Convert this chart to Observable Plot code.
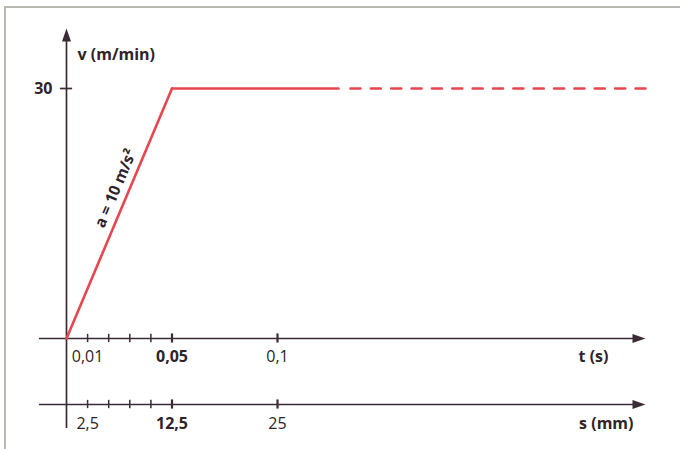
<!DOCTYPE html>
<html>
<head>
<meta charset="utf-8">
<script src="https://cdn.jsdelivr.net/npm/d3@7"></script>
<script src="https://cdn.jsdelivr.net/npm/@observablehq/plot@0.6"></script>
<style>
  html, body { margin: 0; padding: 0; background: #fff; }
  #wrap { position: relative; width: 680px; height: 449px; overflow: hidden; background: #fff; }
  #wrap svg { position: absolute; left: 0; top: 0; }
  #frame { position: absolute; left: 4px; top: 6px; width: 700px; height: 460px;
           border-top: 2px solid #b9b9b2; border-left: 2px solid #b9b9b2; }
</style>
</head>
<body>
<div id="wrap"><div id="frame"></div></div>
<script>
// ---- data ----
const rampT = [0, 0.05];              // time (s)
const rampV = [0, 30];                // speed (m/min)
const solidT = [0.05, 0.1289];        // constant speed, drawn solid
const dashedT = [0.1346, 0.2744];     // constant speed, continues (dashed)
const vMax = 30;
const tTicks = [0.01, 0.02, 0.03, 0.04, 0.05, 0.1];
const tLabels = ["0,01", "", "", "", "0,05", "0,1"];
const tBoldTick = [false, false, false, false, true, true];
const tBoldLabel = [false, false, false, false, true, false];
const sTicks = [2.5, 5, 7.5, 10, 12.5, 25];     // mm  (s = 250 * t)
const sLabels = ["2,5", "", "", "", "12,5", "25"];
const sBoldTick = [false, false, false, false, true, true];
const sBoldLabel = [false, false, false, false, true, false];
const mmPerSecond = 250;
const yTickLabel = "30";
const yTitle = "v (m/min)";
const tTitle = "t (s)";
const sTitle = "s (mm)";
const slopeLabel = "a = 10 m/s²";

// axis extents (data units)
const tAxisStart = -0.0128, tAxisEnd = 0.2744;
const vAxisTop = 37.2, vAxisBottom = -10.8;
const sAxisV = -7.92;   // where the second (distance) axis sits

const axisColor = "#3b2b37";
const textColor = "#2f2329";
const red = "#e8464f";
const font = "'Open Sans', 'Noto Sans', sans-serif";
const fs = 16;

const arrowUp = { draw(ctx) { ctx.moveTo(0, 0); ctx.lineTo(-4.5, 13); ctx.lineTo(4.5, 13); ctx.closePath(); } };
const arrowRight = { draw(ctx) { ctx.moveTo(0, 0); ctx.lineTo(-13, -4.5); ctx.lineTo(-13, 4.5); ctx.closePath(); } };

const ramp = rampT.map((t, i) => ({ t, v: rampV[i] }));
const solid = solidT.map(t => ({ t, v: vMax }));
const dashed = dashedT.map(t => ({ t, v: vMax }));
const tt = tTicks.map((t, i) => ({ t, label: tLabels[i], boldTick: tBoldTick[i], boldLabel: tBoldLabel[i] }));
const st = sTicks.map((s, i) => ({ t: s / mmPerSecond, label: sLabels[i], boldTick: sBoldTick[i], boldLabel: sBoldLabel[i] }));
const labelAt = { t: rampT[1] * 0.6, v: rampV[1] * 0.6 };

const chart = Plot.plot({
  width: 680,
  height: 449,
  margin: 0,
  style: { background: "transparent", fontFamily: font, color: textColor },
  x: { domain: [-66 / 2110, 614 / 2110], axis: null },
  y: { domain: [-111 / (250 / 30), 338 / (250 / 30)], axis: null },
  marks: [
    // vertical axis
    Plot.ruleX([0], { y1: vAxisBottom, y2: vAxisTop - 1, stroke: axisColor, strokeWidth: 1.7 }),
    Plot.dot([{ t: 0, v: vAxisTop }], { x: "t", y: "v", symbol: arrowUp, fill: axisColor, stroke: "none" }),
    // t axis
    Plot.ruleY([0], { x1: tAxisStart, x2: tAxisEnd - 0.004, stroke: axisColor, strokeWidth: 1.7 }),
    Plot.dot([{ t: tAxisEnd, v: 0 }], { x: "t", y: "v", symbol: arrowRight, fill: axisColor, stroke: "none" }),
    // s axis
    Plot.ruleY([sAxisV], { x1: tAxisStart, x2: tAxisEnd - 0.004, stroke: axisColor, strokeWidth: 1.7 }),
    Plot.dot([{ t: tAxisEnd, v: sAxisV }], { x: "t", y: "v", symbol: arrowRight, fill: axisColor, stroke: "none" }),
    // ticks
    Plot.ruleX(tt.filter(d => !d.boldTick), { x: "t", y1: -0.5, y2: 0.5, stroke: axisColor, strokeWidth: 1.5 }),
    Plot.ruleX(tt.filter(d => d.boldTick), { x: "t", y1: -0.55, y2: 0.55, stroke: axisColor, strokeWidth: 2.2 }),
    Plot.ruleX(st.filter(d => !d.boldTick), { x: "t", y1: sAxisV - 0.5, y2: sAxisV + 0.5, stroke: axisColor, strokeWidth: 1.5 }),
    Plot.ruleX(st.filter(d => d.boldTick), { x: "t", y1: sAxisV - 0.55, y2: sAxisV + 0.55, stroke: axisColor, strokeWidth: 2.2 }),
    Plot.ruleY([vMax], { x1: -0.0029, x2: 0.0029, stroke: axisColor, strokeWidth: 1.7 }),
    // tick labels
    Plot.text(tt.filter(d => !d.boldLabel && d.label), { x: "t", y: 0, text: "label", dy: 18, fontSize: fs, fill: textColor }),
    Plot.text(tt.filter(d => d.boldLabel), { x: "t", y: 0, text: "label", dy: 18, fontSize: fs, fontWeight: "bold", fill: textColor }),
    Plot.text(st.filter(d => !d.boldLabel && d.label), { x: "t", y: sAxisV, text: "label", dy: 19, fontSize: fs, fill: textColor }),
    Plot.text(st.filter(d => d.boldLabel), { x: "t", y: sAxisV, text: "label", dy: 19, fontSize: fs, fontWeight: "bold", fill: textColor }),
    Plot.text([yTickLabel], { x: 0, y: vMax, text: d => d, dx: -14, textAnchor: "end", fontSize: fs, fontWeight: "bold", fill: textColor }),
    // axis titles
    Plot.text([yTitle], { x: 0, y: vAxisTop, text: d => d, dx: 11, dy: 26, textAnchor: "start", fontSize: fs, fontWeight: "bold", fill: textColor }),
    Plot.text([tTitle], { x: tAxisEnd, y: 0, text: d => d, dx: -37, dy: 18, textAnchor: "end", fontSize: fs, fontWeight: "bold", fill: textColor }),
    Plot.text([sTitle], { x: tAxisEnd, y: sAxisV, text: d => d, dx: -12, dy: 19, textAnchor: "end", fontSize: fs, fontWeight: "bold", fill: textColor }),
    // speed curve
    Plot.line(ramp, { x: "t", y: "v", stroke: red, strokeWidth: 2.6 }),
    Plot.line(solid, { x: "t", y: "v", stroke: red, strokeWidth: 2.6 }),
    Plot.line(dashed, { x: "t", y: "v", stroke: red, strokeWidth: 2.6, strokeDasharray: "10 10.36" }),
    // slope label
    Plot.text([labelAt], { x: "t", y: "v", text: () => slopeLabel, rotate: -67, dx: -14, dy: 0, fontSize: 15.5, fontWeight: "bold", fill: textColor })
  ]
});
document.getElementById("wrap").appendChild(chart);
</script>
</body>
</html>
